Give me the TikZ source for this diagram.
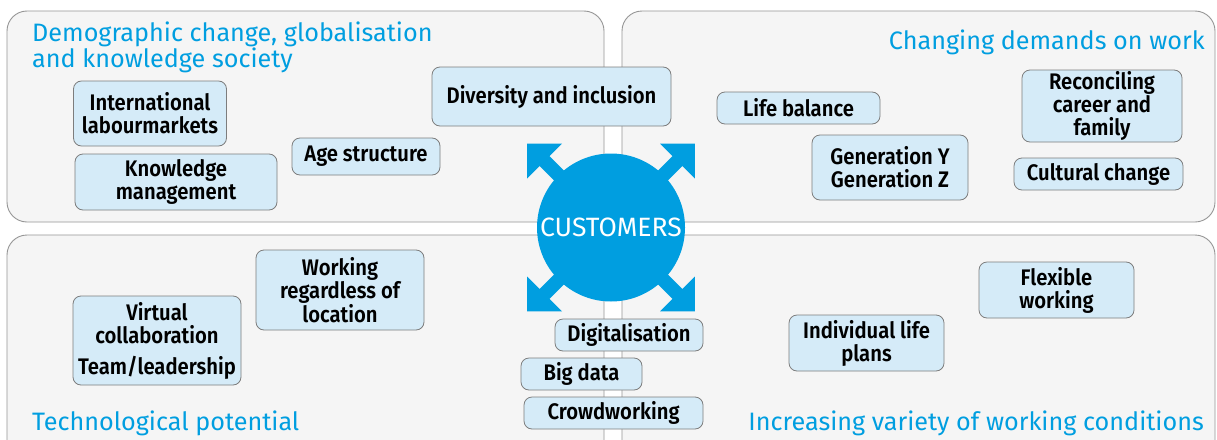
\documentclass[tikz,border=0pt]{standalone}
\usepackage{fontspec}
\setmainfont{Fira Sans}[FakeStretch=1.0]
\newfontfamily\boxfont{Fira Sans SemiBold}[FakeStretch=0.9]
\definecolor{eublue}{RGB}{0,158,224}
\definecolor{panelfill}{RGB}{245,245,245}
\definecolor{panelline}{RGB}{150,150,150}
\definecolor{boxfill}{RGB}{213,235,248}
\definecolor{boxline}{RGB}{125,125,125}
\begin{document}
\begin{tikzpicture}[x=1pt,y=-1pt,
  panel/.style={draw=panelline,fill=panelfill,line width=0.9pt,rounded corners=20pt},
  topic/.style={draw=boxline,fill=boxfill,line width=0.8pt,rounded corners=8pt,inner sep=0pt,align=center,
     font=\boxfont\fontsize{22.5}{23}\selectfont},
  heading/.style={text=eublue,inner sep=0pt,font=\fontsize{25.2}{26}\selectfont},
  custnode/.style={circle,fill=eublue,text=white,inner sep=0pt,minimum size=148pt,font=\fontsize{26.5}{27}\selectfont},
  arrowshape/.style={fill=eublue}
]
\useasboundingbox (0,0) rectangle (1217,439);
\clip (0,0) rectangle (1217,439);
\fill[white] (0,0) rectangle (1217,439);
% panels
\draw[panel] (7,11) rectangle (604,222);
\draw[panel] (622,11) rectangle (1215,222);
\draw[panel] (7,235) rectangle (604,470);
\draw[panel] (622,235) rectangle (1215,470);
% headings
\node[heading,anchor=base west,align=left] (h1) at (32,67.5) {Demographic change, globalisation\\and knowledge society};
\node[heading,anchor=base east] (h2) at (1205,49) {Changing demands on work};
\node[heading,anchor=base west] (h3) at (32,430) {Technological potential};
\node[heading,anchor=base east] (h4) at (1204,430) {Increasing variety of working conditions};
% centre
\node[custnode] (cust) at (611,227.5) {CUSTOMERS};
\foreach \a in {45,135,225,315}{
  \begin{scope}[shift={(cust.center)},rotate=\a]
    \fill[arrowshape] (60,-7) -- (94,-7) -- (94,-24.7) -- (118.7,0) -- (94,24.7) -- (94,7) -- (60,7) -- cycle;
  \end{scope}
}
% topics
\node[topic,minimum width=153pt,minimum height=65pt] (intl) at (150,113.5) {International\\labourmarkets};
\node[topic,minimum width=202pt,minimum height=56pt] (know) at (176,182) {Knowledge\\management};
\node[topic,minimum width=148pt,minimum height=37pt] (age) at (366,156.5) {Age structure};
\node[topic,minimum width=239pt,minimum height=59pt] (div) at (551.5,96.5) {Diversity and inclusion};
\node[topic,minimum width=163pt,minimum height=32pt] (life) at (798.5,108) {Life balance};
\node[topic,minimum width=156pt,minimum height=65pt] (gen) at (890,167.5) {Generation Y\\Generation Z};
\node[topic,minimum width=160pt,minimum height=72pt] (rec) at (1102,106) {Reconciling\\career and\\family};
\node[topic,minimum width=169pt,minimum height=32pt] (cult) at (1098.5,174) {Cultural change};
\node[topic,minimum width=168pt,minimum height=80pt] (loc) at (340,290) {Working\\regardless of\\location};
\node[topic,minimum width=168pt,minimum height=89pt] (virt) at (157,340.5) {Virtual\\collaboration\\[8pt]Team/leadership};
\node[topic,minimum width=148pt,minimum height=32pt] (dig) at (629,335) {Digitalisation};
\node[topic,minimum width=121pt,minimum height=32pt] (big) at (581.5,374) {Big data};
\node[topic,minimum width=179pt,minimum height=32pt] (crowd) at (613.5,413) {Crowdworking};
\node[topic,minimum width=155pt,minimum height=56pt] (flex) at (1056.5,290) {Flexible\\working};
\node[topic,minimum width=155pt,minimum height=56pt] (indiv) at (866.5,343) {Individual life\\plans};
\end{tikzpicture}
\end{document}
